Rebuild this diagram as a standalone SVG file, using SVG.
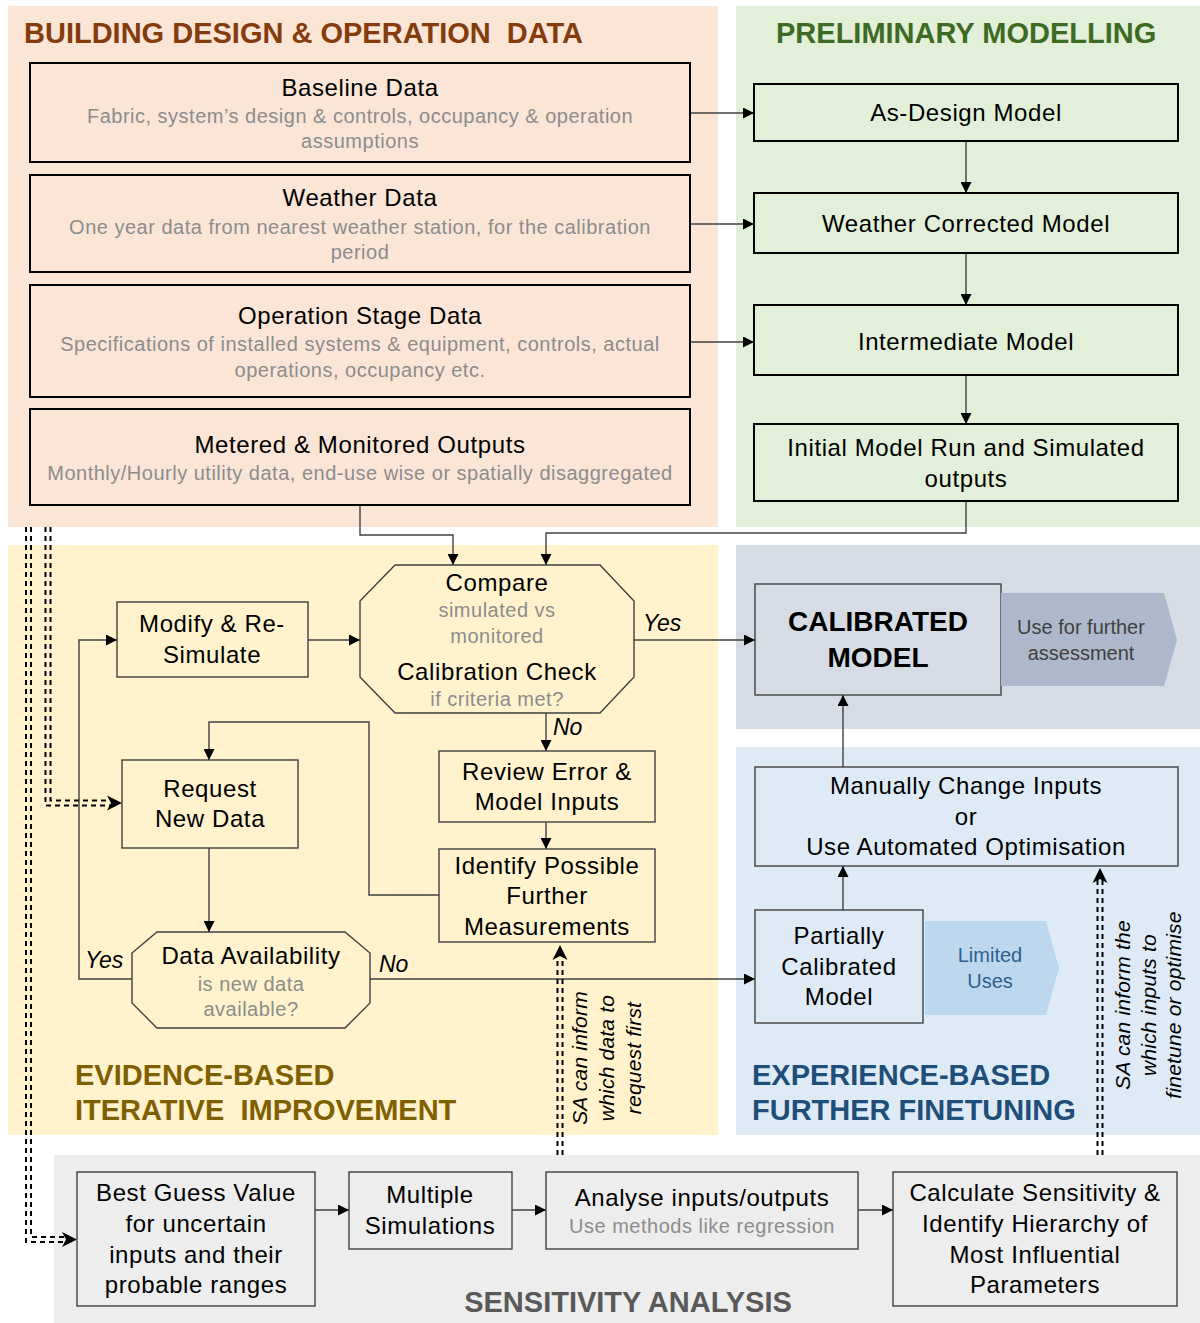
<svg xmlns="http://www.w3.org/2000/svg" width="1200" height="1323" viewBox="0 0 1200 1323">
<defs>
<style>
text{font-family:"Liberation Sans",Arial,sans-serif;}
.hd{font-size:29px;font-weight:bold;}
.t{font-size:24px;fill:#000;text-anchor:middle;letter-spacing:0.6px;}
.s{font-size:20px;fill:#8c8c8c;text-anchor:middle;letter-spacing:0.5px;}
.it{font-size:23px;font-style:italic;fill:#000;}
.rt{font-size:21px;font-style:italic;fill:#000;text-anchor:middle;letter-spacing:0.2px;}
.bx{stroke:#000;stroke-width:2;}
.gb{stroke:#404040;stroke-width:1.4;}
.c{fill:none;stroke:#404040;stroke-width:1.4;}
.d{fill:none;stroke:#000;stroke-width:2;stroke-dasharray:5 4;}
</style>
<marker id="ah" viewBox="0 0 10 10" refX="10" refY="5" markerWidth="11" markerHeight="11" markerUnits="userSpaceOnUse" orient="auto">
<path d="M0,0 L10,5 L0,10 Z" fill="#000"/>
</marker>
</defs>

<!-- panels -->
<rect x="8" y="6" width="710" height="521" fill="#fbe5d6"/>
<rect x="736" y="6" width="464" height="521" fill="#e2efd9"/>
<rect x="8" y="545" width="710" height="590" fill="#fff2cc"/>
<rect x="736" y="545" width="464" height="184" fill="#d6dce5"/>
<rect x="736" y="747" width="464" height="388" fill="#deebf7"/>
<rect x="54" y="1155" width="1146" height="168" fill="#ededed"/>

<text class="hd" x="24" y="43" fill="#843c0c" xml:space="preserve">BUILDING DESIGN &amp; OPERATION  DATA</text>
<text class="hd" x="776" y="43" fill="#3d6b24">PRELIMINARY MODELLING</text>
<text class="hd" x="75" y="1085" fill="#7f6000">EVIDENCE-BASED</text>
<text class="hd" x="75" y="1120" fill="#7f6000" xml:space="preserve">ITERATIVE  IMPROVEMENT</text>
<text class="hd" x="752" y="1085" fill="#1f4e79">EXPERIENCE-BASED</text>
<text class="hd" x="752" y="1120" fill="#1f4e79">FURTHER FINETUNING</text>
<text class="hd" x="628" y="1312" fill="#595959" text-anchor="middle">SENSITIVITY ANALYSIS</text>

<!-- connectors -->
<g id="connectors">
<path class="c" d="M690,113 H754" marker-end="url(#ah)"/>
<path class="c" d="M690,224 H754" marker-end="url(#ah)"/>
<path class="c" d="M690,342 H754" marker-end="url(#ah)"/>
<path class="c" d="M966,141 V193" marker-end="url(#ah)"/>
<path class="c" d="M966,253 V305" marker-end="url(#ah)"/>
<path class="c" d="M966,375 V424" marker-end="url(#ah)"/>
<path class="c" d="M360,505 V535 H453 V565" marker-end="url(#ah)"/>
<path class="c" d="M966,501 V533 H546 V565" marker-end="url(#ah)"/>
<path class="c" d="M308,640 H360" marker-end="url(#ah)"/>
<path class="c" d="M634,640 H755" marker-end="url(#ah)"/>
<path class="c" d="M546,690 V751" marker-end="url(#ah)"/>
<path class="c" d="M546,822 V849" marker-end="url(#ah)"/>
<path class="c" d="M439,895 H369 V722 H209 V760" marker-end="url(#ah)"/>
<path class="c" d="M209,848 V932" marker-end="url(#ah)"/>
<path class="c" d="M132,979 H79 V640 H117" marker-end="url(#ah)"/>
<path class="c" d="M370,979 H755" marker-end="url(#ah)"/>
<path class="c" d="M843,767 V695" marker-end="url(#ah)"/>
<path class="c" d="M843,910 V866" marker-end="url(#ah)"/>
<path class="c" d="M315,1210 H349" marker-end="url(#ah)"/>
<path class="c" d="M512,1210 H546" marker-end="url(#ah)"/>
<path class="c" d="M858,1210 H893" marker-end="url(#ah)"/>

<!-- dashed double lines -->
<path class="d" d="M26,527 V1242 H64"/>
<path class="d" d="M31,527 V1237 H64"/>
<path class="d" d="M45.5,527 V805.5 H110"/>
<path class="d" d="M50.5,527 V800.5 H110"/>
<path class="d" d="M557.5,1155 V957"/>
<path class="d" d="M562.5,1155 V957"/>
<path class="d" d="M1097.5,1155 V880"/>
<path class="d" d="M1102.5,1155 V880"/>
<path d="M77,1239.5 L62,1232 L66,1239.5 L62,1247 Z" fill="#000"/>
<path d="M122,803 L107,795.5 L111,803 L107,810.5 Z" fill="#000"/>
<path d="M560,945 L552.5,960 L560,956 L567.5,960 Z" fill="#000"/>
<path d="M1100,868 L1092.5,883 L1100,879 L1107.5,883 Z" fill="#000"/>

<text class="it" x="643" y="631">Yes</text>
<text class="it" x="553" y="735">No</text>
<text class="it" x="85" y="968">Yes</text>
<text class="it" x="379" y="972">No</text>

<g transform="translate(608,1058) rotate(-90)">
<text class="rt" x="0" y="-21">SA can inform</text>
<text class="rt" x="0" y="6">which data to</text>
<text class="rt" x="0" y="33">request first</text>
</g>
<g transform="translate(1149,1005) rotate(-90)">
<text class="rt" x="0" y="-19">SA can inform the</text>
<text class="rt" x="0" y="7">which inputs to</text>
<text class="rt" x="0" y="32">finetune or optimise</text>
</g>
</g>

<!-- building data nodes -->
<g id="baseline">
<rect class="bx" x="30" y="63" width="660" height="99" fill="#fbe5d6"/>
<text class="t" x="360" y="96">Baseline Data</text>
<text class="s" x="360" y="123">Fabric, system’s design &amp; controls, occupancy &amp; operation</text>
<text class="s" x="360" y="148">assumptions</text>
</g>
<g id="weather">
<rect class="bx" x="30" y="175" width="660" height="97" fill="#fbe5d6"/>
<text class="t" x="360" y="206">Weather Data</text>
<text class="s" x="360" y="234">One year data from nearest weather station, for the calibration</text>
<text class="s" x="360" y="259">period</text>
</g>
<g id="operation">
<rect class="bx" x="30" y="285" width="660" height="112" fill="#fbe5d6"/>
<text class="t" x="360" y="324">Operation Stage Data</text>
<text class="s" x="360" y="351">Specifications of installed systems &amp; equipment, controls, actual</text>
<text class="s" x="360" y="377">operations, occupancy etc.</text>
</g>
<g id="metered">
<rect class="bx" x="30" y="409" width="660" height="96" fill="#fbe5d6"/>
<text class="t" x="360" y="453">Metered &amp; Monitored Outputs</text>
<text class="s" x="360" y="480">Monthly/Hourly utility data, end-use wise or spatially disaggregated</text>
</g>

<!-- preliminary modelling nodes -->
<g id="asdesign">
<rect class="bx" x="754" y="84" width="424" height="57" fill="#e2efd9"/>
<text class="t" x="966" y="121">As-Design Model</text>
</g>
<g id="weathercorrected">
<rect class="bx" x="754" y="193" width="424" height="60" fill="#e2efd9"/>
<text class="t" x="966" y="232">Weather Corrected Model</text>
</g>
<g id="intermediate">
<rect class="bx" x="754" y="305" width="424" height="70" fill="#e2efd9"/>
<text class="t" x="966" y="350">Intermediate Model</text>
</g>
<g id="initialrun">
<rect class="bx" x="754" y="424" width="424" height="77" fill="#e2efd9"/>
<text class="t" x="966" y="456">Initial Model Run and Simulated</text>
<text class="t" x="966" y="487">outputs</text>
</g>

<!-- evidence-based nodes -->
<g id="compare">
<polygon class="gb" points="395,565 600,565 634,601 634,677 600,713 395,713 360,677 360,601" fill="#fff2cc"/>
<text class="t" x="497" y="591">Compare</text>
<text class="s" x="497" y="617">simulated vs</text>
<text class="s" x="497" y="643">monitored</text>
<text class="t" x="497" y="680">Calibration Check</text>
<text class="s" x="497" y="706">if criteria met?</text>
</g>
<g id="modify">
<rect class="gb" x="117" y="602" width="191" height="75" fill="#fff2cc"/>
<text class="t" x="212" y="632">Modify &amp; Re-</text>
<text class="t" x="212" y="663">Simulate</text>
</g>
<g id="request">
<rect class="gb" x="122" y="760" width="176" height="88" fill="#fff2cc"/>
<text class="t" x="210" y="797">Request</text>
<text class="t" x="210" y="827">New Data</text>
</g>
<g id="review">
<rect class="gb" x="439" y="751" width="216" height="71" fill="#fff2cc"/>
<text class="t" x="547" y="780">Review Error &amp;</text>
<text class="t" x="547" y="810">Model Inputs</text>
</g>
<g id="identify">
<rect class="gb" x="439" y="849" width="216" height="93" fill="#fff2cc"/>
<text class="t" x="547" y="874">Identify Possible</text>
<text class="t" x="547" y="904">Further</text>
<text class="t" x="547" y="935">Measurements</text>
</g>
<g id="availability">
<polygon class="gb" points="157,932 345,932 370,953 370,1003 345,1028 157,1028 132,1003 132,953" fill="#fff2cc"/>
<text class="t" x="251" y="964">Data Availability</text>
<text class="s" x="251" y="991">is new data</text>
<text class="s" x="251" y="1016">available?</text>
</g>

<!-- calibrated -->
<g id="calibrated">
<rect class="gb" x="755" y="584" width="246" height="111" fill="#d6dce5"/>
<text x="878" y="631" font-size="28" font-weight="bold" text-anchor="middle">CALIBRATED</text>
<text x="878" y="667" font-size="28" font-weight="bold" text-anchor="middle">MODEL</text>
</g>
<g id="furtheruse">
<polygon points="1001,593 1164,593 1177,640 1164,686 1001,686" fill="#adb9ca"/>
<text x="1081" y="634" font-size="20" fill="#404040" text-anchor="middle">Use for further</text>
<text x="1081" y="660" font-size="20" fill="#404040" text-anchor="middle">assessment</text>
</g>

<!-- experience-based -->
<g id="manual">
<rect class="gb" x="755" y="767" width="423" height="99" fill="#deebf7"/>
<text class="t" x="966" y="794">Manually Change Inputs</text>
<text class="t" x="966" y="825">or</text>
<text class="t" x="966" y="855">Use Automated Optimisation</text>
</g>
<g id="partial">
<rect class="gb" x="755" y="910" width="168" height="113" fill="#deebf7"/>
<text class="t" x="839" y="944">Partially</text>
<text class="t" x="839" y="975">Calibrated</text>
<text class="t" x="839" y="1005">Model</text>
</g>
<g id="limited">
<polygon points="925,921 1046,921 1059,968 1046,1015 925,1015" fill="#bdd7ee"/>
<text x="990" y="962" font-size="20" fill="#2e5f8f" text-anchor="middle">Limited</text>
<text x="990" y="988" font-size="20" fill="#2e5f8f" text-anchor="middle">Uses</text>
</g>

<!-- sensitivity analysis -->
<g id="bestguess">
<rect class="gb" x="77" y="1172" width="238" height="134" fill="#ededed"/>
<text class="t" x="196" y="1201">Best Guess Value</text>
<text class="t" x="196" y="1232">for uncertain</text>
<text class="t" x="196" y="1263">inputs and their</text>
<text class="t" x="196" y="1293">probable ranges</text>
</g>
<g id="multiple">
<rect class="gb" x="349" y="1172" width="163" height="77" fill="#ededed"/>
<text class="t" x="430" y="1203">Multiple</text>
<text class="t" x="430" y="1234">Simulations</text>
</g>
<g id="analyse">
<rect class="gb" x="546" y="1172" width="312" height="77" fill="#ededed"/>
<text class="t" x="702" y="1206">Analyse inputs/outputs</text>
<text class="s" x="702" y="1233">Use methods like regression</text>
</g>
<g id="calculate">
<rect class="gb" x="893" y="1172" width="284" height="134" fill="#ededed"/>
<text class="t" x="1035" y="1201">Calculate Sensitivity &amp;</text>
<text class="t" x="1035" y="1232">Identify Hierarchy of</text>
<text class="t" x="1035" y="1263">Most Influential</text>
<text class="t" x="1035" y="1293">Parameters</text>
</g>
</svg>
